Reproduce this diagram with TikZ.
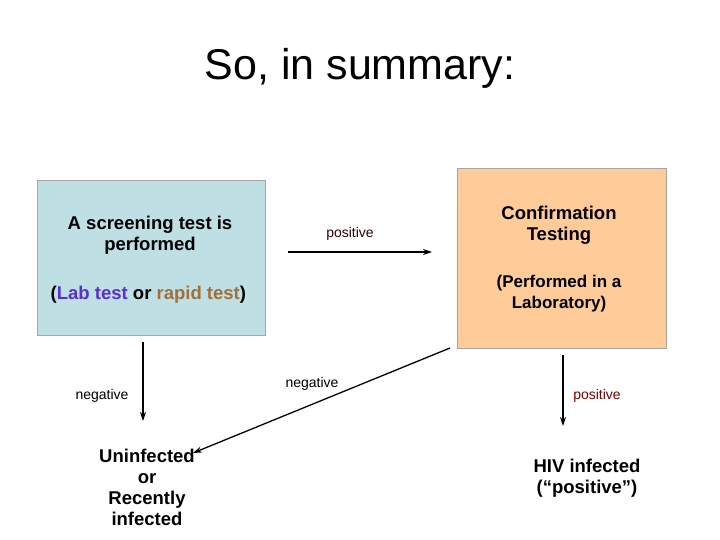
\documentclass[tikz,border=0pt]{standalone}
\usepackage{fontspec}
\setmainfont{Liberation Sans}
\usetikzlibrary{arrows.meta,positioning}
\definecolor{screenblue}{HTML}{BEDFE3}
\definecolor{confpeach}{HTML}{FFCC99}
\definecolor{labpurple}{HTML}{5A2ED0}
\definecolor{rapidbrown}{HTML}{A0703A}
\definecolor{posred}{HTML}{800000}
\begin{document}
\begin{tikzpicture}[x=1pt,y=-1pt, thick]

   \tikzstyle{box}=[rectangle, draw=gray!70, thin, anchor=north west]
   \tikzstyle{main}=[font=\fontsize{18.5}{21}\selectfont\bfseries, align=center]
   \tikzstyle{small}=[font=\fontsize{14}{16}\selectfont]
   \tikzstyle{flow}=[-{Stealth[length=9pt,width=6pt]}, line width=1.3pt]

   \useasboundingbox (0,0) rectangle (720,540);

   \node[font=\fontsize{43}{48}\selectfont] (title) at (360,68) {So, in summary:};

   \node[box, fill=screenblue, minimum width=228, minimum height=155] (screen) at (37,180) {};
   \node[box, fill=confpeach, minimum width=209, minimum height=180] (confirm) at (457,168) {};

   \node[main] (screentxt) at (150,235) {A screening test is\\performed};
   \node[main, anchor=west] (labtxt) at (47,295) {(\textcolor{labpurple}{Lab test} or \textcolor{rapidbrown}{rapid test})};
   \node[main] (conftxt) at (559,225) {Confirmation\\Testing};
   \node[main, font=\fontsize{17}{21}\selectfont\bfseries] (perftxt) at (559,294) {(Performed in a\\Laboratory)};

   % arrows
   \coordinate (p1) at (288,252);
   \coordinate (p2) at (432,252);
   \draw[flow] (p1) -- (p2);
   \node[small, text=posred!40!black] (pos1) at (350,234) {positive};

   \coordinate (l1) at (143,342);
   \coordinate (l2) at (143,421);
   \draw[flow] (l1) -- (l2);
   \node[small] (neg1) at (102,396) {negative};

   \coordinate (d1) at (450,348);
   \coordinate (d2) at (193,453);
   \draw[flow] (d1) -- (d2);
   \node[small] (neg2) at (312,384) {negative};

   \coordinate (r1) at (563,355);
   \coordinate (r2) at (563,426);
   \draw[flow] (r1) -- (r2);
   \node[small, text=posred] (pos2) at (597,396) {positive};

   \node[main] (uninf) at (147,487) {Uninfected\\or\\Recently\\infected};
   \node[main] (hiv) at (587,478) {HIV infected\\(“positive”)};
\end{tikzpicture}
\end{document}
